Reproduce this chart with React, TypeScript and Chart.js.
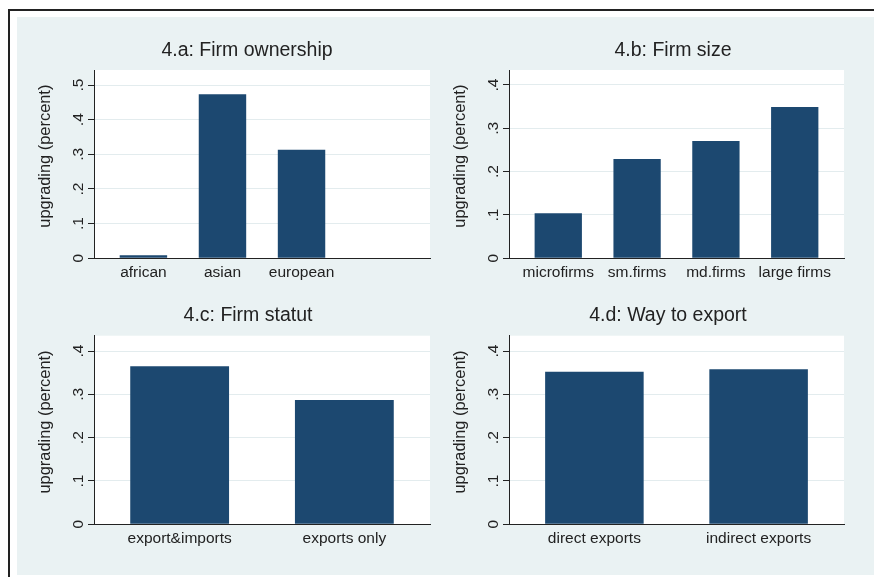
import React, { useEffect, useRef } from 'react';
import { Chart, registerables } from 'chart.js';

Chart.register(...registerables);

// ---- data ----
const ownershipCategories = ['african', 'asian', 'european'];
const ownershipValues = [0.009, 0.473, 0.313];

const sizeCategories = ['microfirms', 'sm.firms', 'md.firms', 'large firms'];
const sizeValues = [0.104, 0.229, 0.271, 0.349];

const statutCategories = ['export&imports', 'exports only'];
const statutValues = [0.365, 0.287];

const wayCategories = ['direct exports', 'indirect exports'];
const wayValues = [0.352, 0.358];

const yTicksOwnership = [0, 0.1, 0.2, 0.3, 0.4, 0.5];
const yTickLabelsOwnership = ['0', '.1', '.2', '.3', '.4', '.5'];
const yTicksOther = [0, 0.1, 0.2, 0.3, 0.4];
const yTickLabelsOther = ['0', '.1', '.2', '.3', '.4'];

const panelTitles = ['4.a: Firm ownership', '4.b: Firm size', '4.c: Firm statut', '4.d: Way to export'];
const yAxisTitle = 'upgrading (percent)';

// ---- styles ----
const FONT = "'Liberation Sans', Arial, Helvetica, sans-serif";
const BAR = '#1c4870';
const AXIS = '#222222';
const GRID = '#e3ecee';
const TEXT = '#222222';
const BG = '#eaf2f3';

Chart.defaults.font.family = FONT;

type PanelCfg = {
  left: number; top: number; width: number; height: number;
  title: string; categories: string[]; values: number[];
  yTicks: number[]; yTickLabels: string[]; yMax: number;
  xMin: number; xMax: number;
  padL: number; padR: number; yW: number; xH: number;
  titlePadTop: number; titlePadBottom: number;
};

const plotBg = {
  id: 'plotBg',
  beforeDraw(chart: any) {
    const { ctx, chartArea } = chart;
    ctx.save();
    ctx.fillStyle = '#ffffff';
    ctx.fillRect(chartArea.left, chartArea.top, chartArea.right - chartArea.left, chartArea.bottom - chartArea.top);
    ctx.restore();
  },
};

function makeLabelPlugin(cfg: PanelCfg) {
  return {
    id: 'yLabels',
    afterDraw(chart: any) {
      const { ctx, chartArea } = chart;
      const ys = chart.scales.y;
      ctx.save();
      ctx.fillStyle = TEXT;
      ctx.font = `15.5px ${FONT}`;
      ys.ticks.forEach((t: any, i: number) => {
        const y = ys.getPixelForValue(t.value);
        ctx.save();
        ctx.translate(chartArea.left - 11, y);
        ctx.rotate(-Math.PI / 2);
        ctx.textAlign = 'center';
        ctx.textBaseline = 'alphabetic';
        ctx.fillText(cfg.yTickLabels[i] ?? '', 0, 0);
        ctx.restore();
      });
      ctx.font = `16.4px ${FONT}`;
      ctx.translate(chartArea.left - 48.5, (chartArea.top + chartArea.bottom) / 2 - 8);
      ctx.rotate(-Math.PI / 2);
      ctx.textAlign = 'center';
      ctx.textBaseline = 'middle';
      ctx.fillText(yAxisTitle, 0, 0);
      ctx.restore();
    },
  };
}

function Panel({ cfg }: { cfg: PanelCfg }) {
  const ref = useRef<HTMLCanvasElement>(null);
  useEffect(() => {
    if (!ref.current) return;
    const chart = new Chart(ref.current, {
      type: 'bar',
      data: {
        datasets: [
          {
            data: cfg.values.map((v, i) => ({ x: i, y: v })),
            backgroundColor: BAR,
            borderWidth: 0,
            categoryPercentage: 1,
            barPercentage: 0.6,
          } as any,
        ],
      },
      options: {
        animation: false,
        responsive: false,
        events: [],
        layout: { padding: { left: cfg.padL, right: cfg.padR, top: 0, bottom: 0 } },
        plugins: {
          legend: { display: false },
          tooltip: { enabled: false },
          title: {
            display: true,
            text: cfg.title,
            color: TEXT,
            font: { size: 19.5, weight: 'normal' as any, family: FONT, lineHeight: 1.2 },
            padding: { top: cfg.titlePadTop, bottom: cfg.titlePadBottom },
          },
        },
        scales: {
          x: {
            type: 'linear',
            min: cfg.xMin,
            max: cfg.xMax,
            offset: false,
            bounds: 'data',
            grid: { display: false, drawTicks: false, offset: false },
            border: { display: true, color: AXIS, width: 1, z: 1 },
            ticks: {
              autoSkip: false,
              maxRotation: 0,
              minRotation: 0,
              padding: 5,
              color: TEXT,
              font: { size: 15.5, family: FONT },
              callback: (_v: any, i: number) => cfg.categories[i] ?? '',
            },
            afterBuildTicks: (s: any) => {
              s.ticks = cfg.categories.map((_c, i) => ({ value: i }));
            },
            afterFit: (s: any) => {
              s.height = cfg.xH;
            },
          } as any,
          y: {
            type: 'linear',
            min: 0,
            max: cfg.yMax,
            bounds: 'data',
            grid: { color: GRID, lineWidth: 1, drawTicks: true, tickLength: 6, tickColor: AXIS, tickWidth: 1 },
            border: { display: true, color: AXIS, width: 1, z: 1 },
            ticks: { display: false },
            afterBuildTicks: (s: any) => {
              s.ticks = cfg.yTicks.map((v) => ({ value: v }));
            },
            afterFit: (s: any) => {
              s.width = cfg.yW;
            },
          } as any,
        },
      },
      plugins: [plotBg, makeLabelPlugin(cfg)],
    });
    return () => chart.destroy();
  }, [cfg]);
  return (
    <canvas
      ref={ref}
      width={cfg.width}
      height={cfg.height}
      style={{ position: 'absolute', left: cfg.left, top: cfg.top, width: cfg.width, height: cfg.height }}
    />
  );
}

const panels: PanelCfg[] = [
  {
    left: 17, top: 17, width: 428, height: 279, title: panelTitles[0],
    categories: ownershipCategories, values: ownershipValues,
    yTicks: yTicksOwnership, yTickLabels: yTickLabelsOwnership, yMax: 0.5433,
    xMin: -0.625, xMax: 3.625, padL: 47, padR: 15, yW: 30, xH: 37.7,
    titlePadTop: 21.6, titlePadBottom: 8.0,
  },
  {
    left: 445, top: 17, width: 429, height: 279, title: panelTitles[1],
    categories: sizeCategories, values: sizeValues,
    yTicks: yTicksOther, yTickLabels: yTickLabelsOther, yMax: 0.4346,
    xMin: -0.625, xMax: 3.625, padL: 57, padR: 30, yW: 7, xH: 37.7,
    titlePadTop: 21.6, titlePadBottom: 8.0,
  },
  {
    left: 17, top: 296, width: 428, height: 279, title: panelTitles[2],
    categories: statutCategories, values: statutValues,
    yTicks: yTicksOther, yTickLabels: yTickLabelsOther, yMax: 0.4355,
    xMin: -0.52, xMax: 1.52, padL: 49, padR: 15, yW: 28, xH: 50.7,
    titlePadTop: 7.6, titlePadBottom: 8.7,
  },
  {
    left: 445, top: 296, width: 429, height: 279, title: panelTitles[3],
    categories: wayCategories, values: wayValues,
    yTicks: yTicksOther, yTickLabels: yTickLabelsOther, yMax: 0.4355,
    xMin: -0.52, xMax: 1.52, padL: 47, padR: 30, yW: 17, xH: 50.7,
    titlePadTop: 7.6, titlePadBottom: 8.7,
  },
];

export default function App() {
  return (
    <div style={{ position: 'fixed', left: 0, top: 0, width: 874, height: 577, background: '#ffffff', overflow: 'hidden' }}>
      <div
        style={{
          position: 'absolute', left: 8, top: 9, width: 900, height: 600,
          borderTop: `2px solid ${AXIS}`, borderLeft: `2px solid ${AXIS}`,
        }}
      />
      <div style={{ position: 'absolute', left: 17, top: 17, width: 857, height: 558, background: BG }} />
      {panels.map((p, i) => (
        <Panel key={i} cfg={p} />
      ))}
    </div>
  );
}
